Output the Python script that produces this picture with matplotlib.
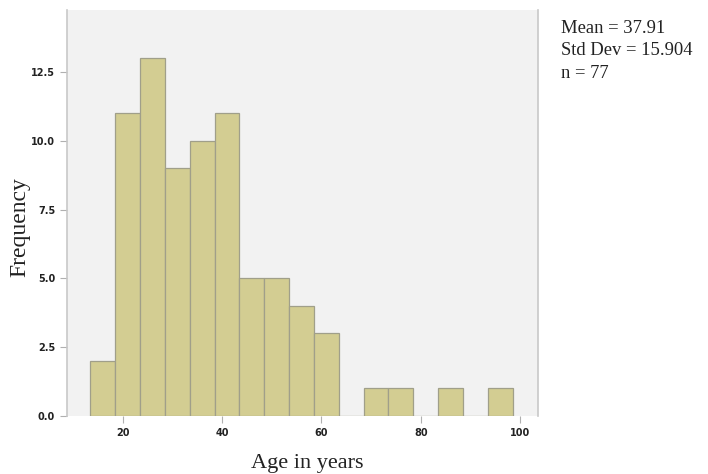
import matplotlib.pyplot as plt
import numpy as np

# histogram bins (age, width 5) and counts
bin_edges = [13.5, 18.5, 23.5, 28.5, 33.5, 38.5, 43.5, 48.5, 53.5, 58.5,
             63.5, 68.5, 73.5, 78.5, 83.5, 88.5, 93.5, 98.5]
counts = [2, 11, 13, 9, 10, 11, 5, 5, 4, 3, 0, 1, 1, 0, 1, 0, 1]
x_ticks = [20, 40, 60, 80, 100]
y_ticks = [0.0, 2.5, 5.0, 7.5, 10.0, 12.5]
stats_text = "Mean = 37.91\nStd Dev = 15.904\nn = 77"

fig = plt.figure(figsize=(7.08, 4.74), dpi=100)
ax = fig.add_axes([67 / 708, 58 / 474, (538 - 67) / 708, (416 - 10) / 474])
ax.set_facecolor('#f2f2f2')

lefts = np.array(bin_edges[:-1])
widths = np.diff(bin_edges)
ax.bar(lefts, counts, width=widths, align='edge', color='#d3cd92',
       edgecolor='#a09f8a', linewidth=0.9)

ax.set_xlim(8.8, 103.6)
ax.set_ylim(0, 14.75)
ax.set_xticks(x_ticks)
ax.set_yticks(y_ticks)
ax.set_yticklabels([f'{v:.1f}' for v in y_ticks])

for s in ['top', 'bottom']:
    ax.spines[s].set_visible(False)
for s in ['left', 'right']:
    ax.spines[s].set_color('#c8c8c8')
    ax.spines[s].set_linewidth(1.2)

ax.tick_params(axis='both', colors='#b0b0b0', labelcolor='#222222',
               labelsize=7, length=5, width=0.8)
for lab in ax.get_xticklabels() + ax.get_yticklabels():
    lab.set_fontweight('bold')

ax.set_xlabel('Age in years', family='Liberation Serif', fontsize=16,
              color='#222222')
ax.set_ylabel('Frequency', family='Liberation Serif', fontsize=17,
              color='#222222')
ax.xaxis.set_label_coords(0.51, -0.093)
ax.yaxis.set_label_coords(-0.078, 0.465)

fig.text(561 / 708, 1 - 20 / 474, stats_text, family='Liberation Serif',
         fontsize=13.4, color='#222222', va='top', ha='left', linespacing=1.42)

fig.savefig('out.png', dpi=100)
